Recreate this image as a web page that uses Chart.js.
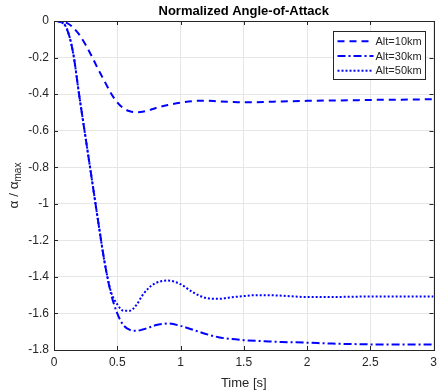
<!DOCTYPE html>
<html>
<head>
<meta charset="utf-8">
<script src="https://cdn.jsdelivr.net/npm/chart.js@4"></script>
<style>
  html, body { margin: 0; padding: 0; background: #fff; }
  #wrap { width: 437px; height: 391px; }
</style>
</head>
<body>
<div id="wrap"><canvas id="myChart" width="437" height="391"></canvas></div>
<script>
// data
let times = [0, 0.05, 0.1, 0.15, 0.2, 0.25, 0.3, 0.35, 0.4, 0.45, 0.5, 0.55, 0.6, 0.65, 0.7, 0.75, 0.8,
    0.9, 1.0, 1.1, 1.2, 1.3, 1.4, 1.5, 1.6, 1.7, 1.8, 2.0, 2.2, 2.4, 2.6, 2.8, 3.0];
let alt10 = [0, -0.002, -0.01, -0.035, -0.075, -0.13, -0.195, -0.265, -0.33, -0.395, -0.445, -0.478, -0.494,
    -0.499, -0.497, -0.488, -0.477, -0.46, -0.447, -0.438, -0.436, -0.44, -0.443, -0.445, -0.444, -0.442,
    -0.44, -0.437, -0.435, -0.433, -0.431, -0.43, -0.428];
let alt30 = [0, -0.005, -0.04, -0.17, -0.41, -0.64, -0.87, -1.10, -1.32, -1.49, -1.60, -1.665, -1.69,
    -1.695, -1.688, -1.677, -1.665, -1.655, -1.668, -1.69, -1.712, -1.73, -1.74, -1.746, -1.75, -1.753,
    -1.756, -1.76, -1.765, -1.768, -1.77, -1.77, -1.77];
let alt50 = [0, -0.005, -0.04, -0.17, -0.41, -0.64, -0.87, -1.10, -1.32, -1.48, -1.55, -1.585, -1.585,
    -1.555, -1.50, -1.46, -1.435, -1.42, -1.44, -1.485, -1.515, -1.52, -1.512, -1.505, -1.50, -1.50,
    -1.503, -1.51, -1.51, -1.508, -1.507, -1.507, -1.507];
let seriesLabels = ["Alt=10km", "Alt=30km", "Alt=50km"];
let xTicks = [0, 0.5, 1, 1.5, 2, 2.5, 3];
let yTicks = [-1.8, -1.6, -1.4, -1.2, -1, -0.8, -0.6, -0.4, -0.2, 0];

let fontFam = "'Liberation Sans', Arial, Helvetica, sans-serif";
let axisColor = "#262626";

function toPoints(ys) {
    return times.map((t, i) => ({ x: t, y: ys[i] }));
}

// box, inward ticks, title, y label and legend (MATLAB style)
let matlabExtras = {
    id: "matlabExtras",
    afterDraw(chart) {
        let ctx = chart.ctx;
        let a = chart.chartArea;
        let xs = chart.scales.x;
        let ys = chart.scales.y;
        ctx.save();
        ctx.strokeStyle = axisColor;
        ctx.lineWidth = 1;
        ctx.strokeRect(Math.round(a.left) + 0.5, Math.round(a.top) + 0.5,
            Math.round(a.right - a.left), Math.round(a.bottom - a.top));
        ctx.beginPath();
        xTicks.forEach(v => {
            let px = Math.round(xs.getPixelForValue(v)) + 0.5;
            ctx.moveTo(px, a.bottom); ctx.lineTo(px, a.bottom - 4);
            ctx.moveTo(px, a.top); ctx.lineTo(px, a.top + 4);
        });
        yTicks.forEach(v => {
            let py = Math.round(ys.getPixelForValue(v)) + 0.5;
            ctx.moveTo(a.left, py); ctx.lineTo(a.left + 4, py);
            ctx.moveTo(a.right, py); ctx.lineTo(a.right - 4, py);
        });
        ctx.stroke();

        // title
        ctx.fillStyle = "#000";
        ctx.font = "bold 13px " + fontFam;
        ctx.textAlign = "center";
        ctx.textBaseline = "alphabetic";
        ctx.fillText("Normalized Angle-of-Attack", (a.left + a.right) / 2, 15);

        // y label with subscript
        ctx.save();
        ctx.translate(18, (a.top + a.bottom) / 2);
        ctx.rotate(-Math.PI / 2);
        ctx.fillStyle = axisColor;
        let main = "\u03b1 / \u03b1";
        ctx.font = "13.5px " + fontFam;
        let w1 = ctx.measureText(main).width;
        ctx.font = "10px " + fontFam;
        let w2 = ctx.measureText("max").width;
        let start = -(w1 + w2) / 2;
        ctx.textAlign = "left";
        ctx.font = "13.5px " + fontFam;
        ctx.fillText(main, start, 0);
        ctx.font = "10px " + fontFam;
        ctx.fillText("max", start + w1, 3);
        ctx.restore();

        // legend
        let lx = 333.5, ly = 31.5, lw = 92, lh = 48;
        ctx.fillStyle = "#fff";
        ctx.fillRect(lx, ly, lw, lh);
        ctx.strokeStyle = axisColor;
        ctx.strokeRect(lx, ly, lw, lh);
        ctx.font = "11px " + fontFam;
        ctx.textAlign = "left";
        ctx.textBaseline = "middle";
        chart.data.datasets.forEach((ds, i) => {
            let yy = ly + 9.8 + i * 14.7;
            ctx.beginPath();
            ctx.setLineDash(ds.borderDash);
            ctx.strokeStyle = ds.borderColor;
            ctx.lineWidth = ds.borderWidth;
            ctx.moveTo(lx + 4, yy);
            ctx.lineTo(lx + 40, yy);
            ctx.stroke();
            ctx.setLineDash([]);
            ctx.fillStyle = axisColor;
            ctx.fillText(ds.label, lx + 42, yy + 0.5);
        });
        ctx.restore();
    }
};

let common = {
    borderColor: "#0000ff",
    borderWidth: 2,
    pointRadius: 0,
    fill: false,
    cubicInterpolationMode: "monotone"
};

let ctx = document.getElementById("myChart").getContext("2d");
let myChart = new Chart(ctx, {
    type: "line",
    data: {
        datasets: [
            Object.assign({ label: seriesLabels[0], data: toPoints(alt10), borderDash: [7, 5] }, common),
            Object.assign({ label: seriesLabels[1], data: toPoints(alt30), borderDash: [8, 3, 2, 3] }, common),
            Object.assign({ label: seriesLabels[2], data: toPoints(alt50), borderDash: [2, 2] }, common)
        ]
    },
    options: {
        responsive: false,
        animation: false,
        devicePixelRatio: 1,
        layout: { padding: { top: 21, right: 3.5, left: 0, bottom: 0 } },
        plugins: {
            legend: { display: false },
            title: { display: false },
            tooltip: { enabled: false }
        },
        scales: {
            x: {
                type: "linear",
                min: 0,
                max: 3,
                afterBuildTicks: s => { s.ticks = xTicks.map(v => ({ value: v })); },
                afterFit: s => { s.height = 41; s.paddingLeft = 0; s.paddingRight = 0; },
                grid: { color: "#e6e6e6", drawTicks: false },
                border: { display: false },
                ticks: {
                    color: axisColor,
                    font: { family: fontFam, size: 12 },
                    padding: 5,
                    maxRotation: 0,
                    callback: v => String(v)
                },
                title: {
                    display: true,
                    text: "Time [s]",
                    color: axisColor,
                    font: { family: fontFam, size: 13 },
                    padding: { top: 0, bottom: 0 }
                }
            },
            y: {
                min: -1.8,
                max: 0,
                afterBuildTicks: s => { s.ticks = yTicks.map(v => ({ value: v })); },
                afterFit: s => { s.width = 54; s.paddingTop = 0; s.paddingBottom = 0; },
                grid: { color: "#e6e6e6", drawTicks: false },
                border: { display: false },
                ticks: {
                    color: axisColor,
                    font: { family: fontFam, size: 12 },
                    padding: 5,
                    callback: v => String(v)
                }
            }
        }
    },
    plugins: [matlabExtras]
});
</script>
</body>
</html>
